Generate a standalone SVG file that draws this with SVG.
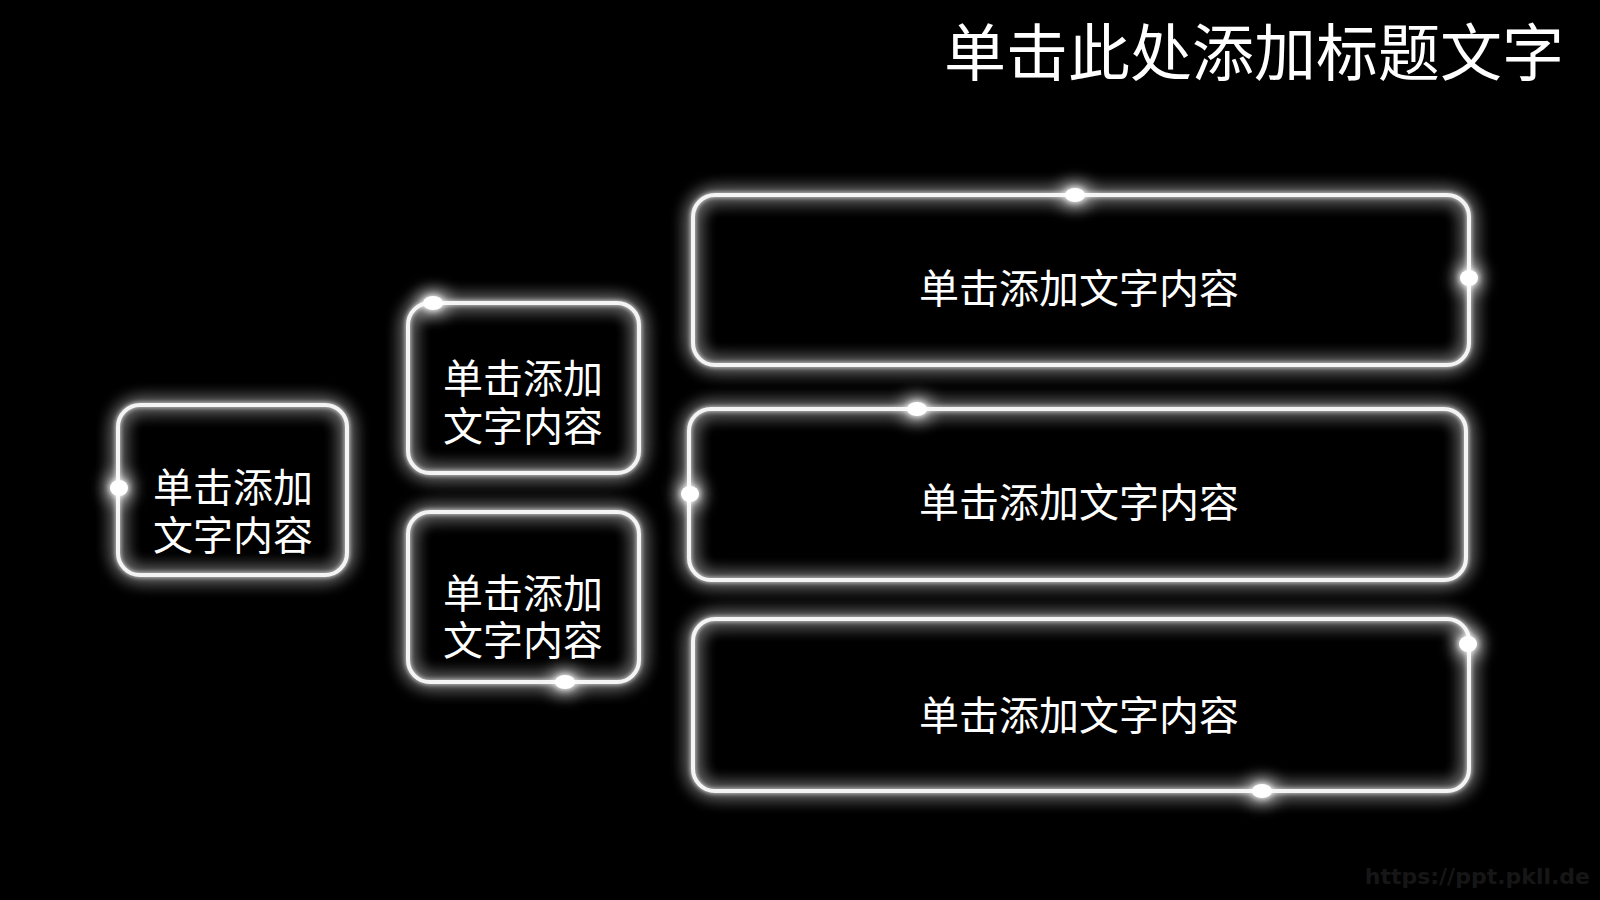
<svg xmlns="http://www.w3.org/2000/svg" width="1600" height="900" viewBox="0 0 1600 900">
<defs>
<style>
.box{fill:none;stroke:#f4f4f4;stroke-width:4;filter:url(#glow)}
.dot{fill:#ffffff;filter:url(#dglow)}
.t{font-family:"Noto Sans CJK SC","Noto Sans",sans-serif;fill:#ffffff;text-anchor:middle}
.b{font-size:40px}
</style>
<filter id="glow" x="-20%" y="-30%" width="140%" height="160%">
<feGaussianBlur in="SourceGraphic" stdDeviation="9" result="b1"/>
<feGaussianBlur in="SourceGraphic" stdDeviation="2.5" result="b2"/>
<feMerge><feMergeNode in="b1"/><feMergeNode in="b1"/><feMergeNode in="b2"/><feMergeNode in="SourceGraphic"/></feMerge>
</filter>
<filter id="dglow" x="-300%" y="-300%" width="700%" height="700%">
<feGaussianBlur in="SourceGraphic" stdDeviation="10" result="b1"/>
<feGaussianBlur in="SourceGraphic" stdDeviation="3" result="b2"/>
<feMerge><feMergeNode in="b1"/><feMergeNode in="b1"/><feMergeNode in="b2"/><feMergeNode in="SourceGraphic"/></feMerge>
</filter>
</defs>
<rect width="1600" height="900" fill="#000000"/>
<text id="title" x="1564" y="76" class="t" style="font-size:62px;text-anchor:end">单击此处添加标题文字</text>
<g id="connectors"></g>
<g id="node-left">
<rect class="box" x="118" y="405" width="229" height="170" rx="22"/>
<ellipse class="dot" cx="119" cy="488" rx="9" ry="8"/>
<text class="t b" x="233" y="502">单击添加<tspan x="233" dy="48">文字内容</tspan></text>
</g>
<g id="node-mid-top">
<rect class="box" x="408" y="303" width="231" height="170" rx="22"/>
<ellipse class="dot" cx="433" cy="303" rx="10" ry="7"/>
<text class="t b" x="523" y="393">单击添加<tspan x="523" dy="48">文字内容</tspan></text>
</g>
<g id="node-mid-bottom">
<rect class="box" x="408" y="512" width="231" height="170" rx="22"/>
<ellipse class="dot" cx="565" cy="682" rx="10" ry="7"/>
<text class="t b" x="523" y="608">单击添加<tspan x="523" dy="47">文字内容</tspan></text>
</g>
<g id="node-right-1">
<rect class="box" x="693" y="195" width="776" height="170" rx="22"/>
<ellipse class="dot" cx="1075" cy="195" rx="10" ry="7"/>
<ellipse class="dot" cx="1469" cy="278" rx="9" ry="8"/>
<text class="t b" x="1079" y="303">单击添加文字内容</text>
</g>
<g id="node-right-2">
<rect class="box" x="689" y="409" width="777" height="171" rx="22"/>
<ellipse class="dot" cx="917" cy="409" rx="10" ry="7"/>
<ellipse class="dot" cx="690" cy="494" rx="9" ry="8"/>
<text class="t b" x="1079" y="517">单击添加文字内容</text>
</g>
<g id="node-right-3">
<rect class="box" x="693" y="619" width="776" height="172" rx="22"/>
<ellipse class="dot" cx="1468" cy="644" rx="9" ry="8"/>
<ellipse class="dot" cx="1262" cy="791" rx="10" ry="7"/>
<text class="t b" x="1079" y="730">单击添加文字内容</text>
</g>
<text id="watermark" x="1590" y="884" style="font-family:'DejaVu Sans',sans-serif;font-size:22px;font-weight:bold;fill:#161616;text-anchor:end">https://ppt.pkll.de</text>
</svg>
